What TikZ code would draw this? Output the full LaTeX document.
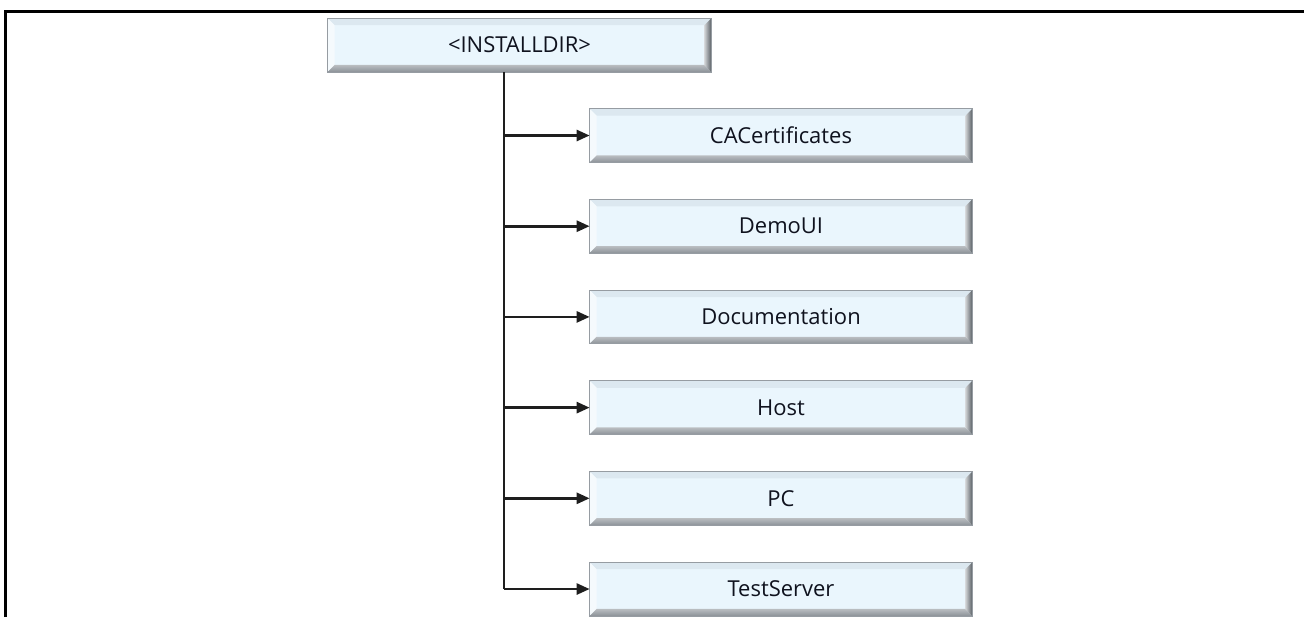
\documentclass[tikz,border=0pt]{standalone}
\usepackage{fontspec}
\setmainfont{Open Sans}
\usepackage{tikz}
\usetikzlibrary{positioning, arrows.meta, calc}
\def\nodedistance{0.74cm}
\def\bv{0.14cm}
\definecolor{dir-face}{RGB}{234, 246, 253}
\definecolor{dir-edge}{RGB}{150, 156, 162}
\definecolor{dir-top}{RGB}{220, 232, 240}
\definecolor{dir-left}{RGB}{245, 250, 253}
\definecolor{dir-dark}{RGB}{88, 94, 100}
\definecolor{dir-bottom}{RGB}{140, 146, 152}
\definecolor{dir-text}{RGB}{15, 18, 30}
\definecolor{wire}{RGB}{30, 30, 30}
\tikzstyle{arrow} = [wire, -{Triangle[length=0.26cm, width=0.22cm]}, line width=1.5pt]
\tikzstyle{connector} = [wire, -, line width=1.5pt]
\tikzstyle{frame} = [black, line width=0.06cm]
\newcommand{\tikzdirnode}[1]{\node[
  draw=dir-edge, rectangle, minimum width=#1, minimum height=1.06cm, fill=dir-face, inner sep=0,
  text=dir-text, font=\fontsize{12.5pt}{12.5pt}\selectfont
]}
\begin{document}
\begin{tikzpicture}[node distance=\nodedistance]
    \useasboundingbox (0, 0) rectangle (26.08, -12.34);
    % frame
    \draw[frame] (0.12, -12.34) -- (0.12, -0.22) -- (26.08, -0.22);

    % nodes
    \tikzdirnode{7.66cm} at (10.39, -0.9)            (root)       {<INSTALLDIR>};
    \tikzdirnode{7.64cm} at (15.62, -2.71)           (cacerts)    {CACertificates};
    \tikzdirnode{7.64cm} [below = of cacerts]        (demoui)     {DemoUI};
    \tikzdirnode{7.64cm} [below = of demoui]         (docs)       {Documentation};
    \tikzdirnode{7.64cm} [below = of docs]           (host)       {Host};
    \tikzdirnode{7.64cm} [below = of host]           (pc)         {PC};
    \tikzdirnode{7.64cm} [below = of pc]             (testserver) {TestServer};

    % bevels
    \foreach \n in {root, cacerts, demoui, docs, host, pc, testserver} {
      \fill[dir-top] (\n.north west) -- (\n.north east) -- ([shift={(-\bv,-\bv)}]\n.north east)
        -- ([shift={(\bv,-\bv)}]\n.north west) -- cycle;
      \fill[dir-left] (\n.north west) -- ([shift={(\bv,-\bv)}]\n.north west)
        -- ([shift={(\bv,\bv)}]\n.south west) -- (\n.south west) -- cycle;
      \shade[top color=dir-bottom!60, bottom color=dir-bottom] (\n.south west) -- ([shift={(\bv,\bv)}]\n.south west)
        -- ([shift={(-\bv,\bv)}]\n.south east) -- (\n.south east) -- cycle;
      \shade[left color=dir-bottom!40, right color=dir-dark] (\n.north east) -- (\n.south east)
        -- ([shift={(-\bv,\bv)}]\n.south east) -- ([shift={(-\bv,-\bv)}]\n.north east) -- cycle;
      \draw[dir-edge, line width=0.4pt] (\n.north west) rectangle (\n.south east);
    }

    % arrows
    \coordinate (trunk) at ([xshift=-0.31cm]root.south);
    \draw[connector] (trunk) -- (trunk |- testserver);
    \foreach \n in {cacerts, demoui, docs, host, pc, testserver}
      \draw[arrow] (trunk |- \n) -- (\n.west);
\end{tikzpicture}
\end{document}
